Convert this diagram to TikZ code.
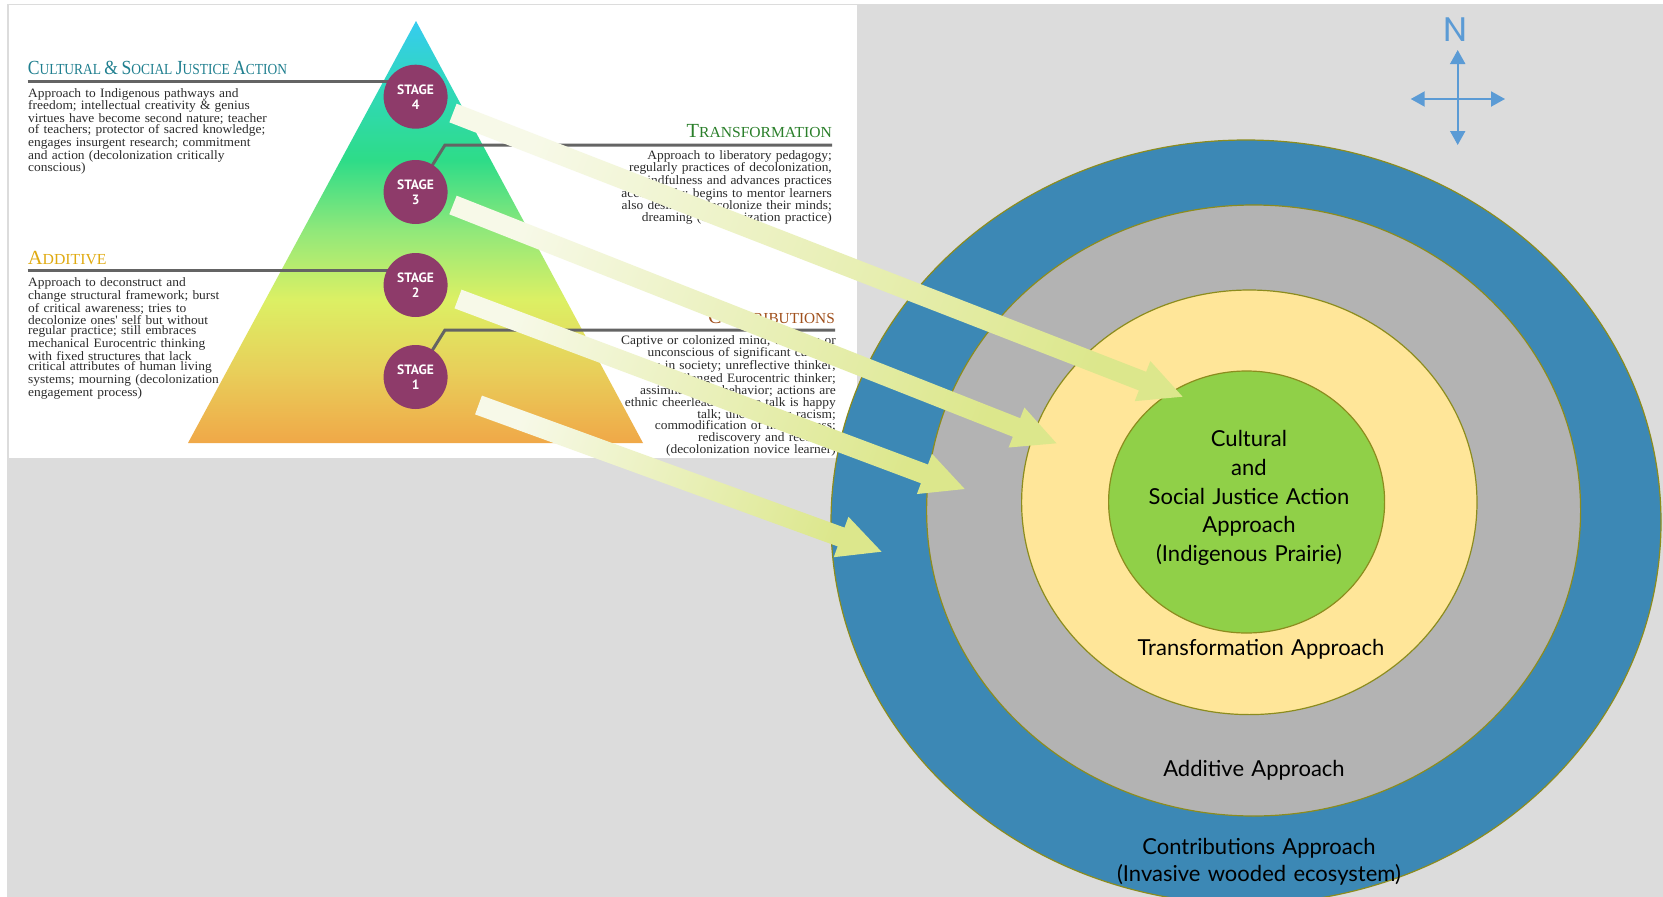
\documentclass[tikz,border=0pt]{standalone}
\usepackage{fontspec}
\usepackage{graphicx}
\setmainfont{Liberation Serif}
\newfontfamily\bodyfont[FakeStretch=1.05]{Liberation Serif}
\newfontfamily\titlefont{Liberation Serif}
\newfontfamily\ringfont{Lato}
\newfontfamily\stagefont{PT Sans}
\newfontfamily\compfont{Poppins}
\usetikzlibrary{calc,arrows.meta}
\definecolor{cBg}{HTML}{DCDCDC}
\definecolor{cPurple}{HTML}{8E3B6A}
\definecolor{cLine}{HTML}{646464}
\definecolor{cTeal}{HTML}{1F7F8F}
\definecolor{cTGreen}{HTML}{2A7F2A}
\definecolor{cGold}{HTML}{E0AA10}
\definecolor{cBrown}{HTML}{A0501C}
\definecolor{cBody}{HTML}{2B2B2B}
\definecolor{cOuter}{HTML}{3C88B5}
\definecolor{cGrayRing}{HTML}{B3B3B3}
\definecolor{cYellow}{HTML}{FFE699}
\definecolor{cGreen}{HTML}{90D048}
\definecolor{cRim}{HTML}{8C8C1E}
\definecolor{cCompass}{HTML}{5B9BD5}
\definecolor{aTail}{HTML}{F7F9E8}
\definecolor{aHead}{HTML}{DCE78C}
\definecolor{pCyan}{HTML}{36CCF0}
\definecolor{pTeal}{HTML}{30D8B8}
\definecolor{pGreen}{HTML}{2EDC88}
\definecolor{pLGreen}{HTML}{90E87A}
\definecolor{pYellow}{HTML}{DCF064}
\definecolor{pGold}{HTML}{E8CF5A}
\definecolor{pOrange}{HTML}{F0A848}
\pgfdeclareverticalshading{pyr}{100bp}{color(0bp)=(pOrange); color(25bp)=(pOrange); color(33.6bp)=(pGold); color(42bp)=(pYellow); color(50.2bp)=(pLGreen); color(58.5bp)=(pGreen); color(66.8bp)=(pTeal); color(75bp)=(pCyan); color(100bp)=(pCyan)}
\newcommand{\tcap}[1]{{\fontsize{20}{20}\selectfont #1}}
\newcommand{\fatarrow}[2]{%
  \coordinate (#1b) at ($(#2)!43pt!(#1)$);
  \shade[top color=aTail, bottom color=aHead, shading angle=69]
    ($(#1)!10pt!90:(#2)$) -- ($(#1b)!10pt!90:(#2)$) -- ($(#1b)!21.5pt!90:(#2)$) -- (#2)
    -- ($(#1b)!21.5pt!-90:(#2)$) -- ($(#1b)!10pt!-90:(#2)$) -- ($(#1)!10pt!-90:(#2)$) -- cycle;
}
\begin{document}
\begin{tikzpicture}[x=1pt,y=-1pt,
  stage/.style={circle, fill=cPurple, minimum size=64pt, inner sep=0pt, text=white,
    font=\stagefont\bfseries\fontsize{13.5}{15}\selectfont, align=center},
  conn/.style={draw=cLine, line width=3pt},
  ttl/.style={inner sep=0pt, font=\titlefont\fontsize{15.3}{16}\selectfont},
  bodyL/.style={inner sep=0pt, text=cBody, text width=260pt, align=left, anchor=base west},
  bodyR/.style={inner sep=0pt, text=cBody, text width=260pt, align=right, anchor=base east},
  ring/.style={draw=cRim, line width=1.2pt},
  ringtxt/.style={inner sep=0pt, font=\ringfont\fontsize{22}{28.75}\selectfont, text=black, align=center, text width=340pt, anchor=base},
  comp/.style={draw=cCompass, line width=2pt, {Triangle[width=15pt,length=14pt]}-{Triangle[width=15pt,length=14pt]}}
]
\useasboundingbox (0,0) rectangle (1663,897);
\clip (0,0) rectangle (1663,897);
\fill[white] (0,0) rectangle (1663,897);
\fill[cBg] (7,4) rectangle (1663,897);
\fill[white] (9,5) rectangle (857,458);

% pyramid
\shade[shading=pyr] (416,21) -- (643,443) -- (188,443) -- cycle;

% stage centres
\coordinate (s4c) at (415.6,96.7);
\coordinate (s3c) at (415.6,192);
\coordinate (s2c) at (415.6,285);
\coordinate (s1c) at (415.6,377);
\coordinate (l4) at (27.6,81.7);
\coordinate (l2) at (27.6,270);
\coordinate (k3) at (445,145);
\coordinate (e3) at (832,145);
\coordinate (k1) at (445,330);
\coordinate (e1) at (835,330);

\draw[conn] (l4) -- (l4 -| s4c);
\draw[conn] (l2) -- (l2 -| s2c);
\draw[conn] (s3c) -- (k3) -- (e3);
\draw[conn] (s1c) -- (k1) -- (e1);

\node[stage] (s4) at (s4c) {STAGE\\4};
\node[stage] (s3) at (s3c) {STAGE\\3};
\node[stage] (s2) at (s2c) {STAGE\\2};
\node[stage] (s1) at (s1c) {STAGE\\1};

% titles
\node[ttl, text=cTeal, anchor=base west] (t4) at (27.6,74.5) {\scalebox{0.88}[1]{\tcap{C}ULTURAL \tcap{\&} \tcap{S}OCIAL \tcap{J}USTICE \tcap{A}CTION}};
\node[ttl, text=cTGreen, anchor=base east] (t3) at (832,137.5) {\scalebox{1.02}[1]{\tcap{T}RANSFORMATION}};
\node[ttl, text=cGold, anchor=base west] (t2) at (27.6,264) {\scalebox{1.03}[1]{\tcap{A}DDITIVE}};
\node[ttl, text=cBrown, anchor=base east] (t1) at (835,323.5) {\tcap{C}ONTRIBUTIONS};

% bodies
\node[bodyL, font=\bodyfont\fontsize{12.8}{11.4}\selectfont] (b4) at (28,97) {Approach to Indigenous pathways and\\ freedom; intellectual creativity \& genius\\ virtues have become second nature; teacher\\ of teachers; protector of sacred knowledge;\\ engages insurgent research; commitment\\ and action (decolonization critically\\ conscious)};
\node[bodyR, font=\bodyfont\fontsize{12.8}{11.6}\selectfont] (b3) at (832,159) {Approach to liberatory pedagogy;\\ regularly practices of decolonization,\\ mindfulness and advances practices\\ accordingly; begins to mentor learners\\ also desires to decolonize their minds;\\ dreaming (decolonization practice)};
\node[bodyL, font=\bodyfont\fontsize{12.8}{10.6}\selectfont] (b2) at (28,286.7) {Approach to deconstruct and\\ change structural framework; burst\\ of critical awareness; tries to\\ decolonize ones' self but without\\ regular practice; still embraces\\ mechanical Eurocentric thinking\\ with fixed structures that lack\\ critical attributes of human living\\ systems; mourning (decolonization\\ engagement process)};
\node[bodyR, font=\bodyfont\fontsize{12.8}{11.2}\selectfont] (b1) at (836,344) {Captive or colonized mind; unaware or\\ unconscious of significant cultural\\ issues in society; unreflective thinker;\\ unchallenged Eurocentric thinker;\\ assimilationist behavior; actions are\\ ethnic cheerleading; race talk is happy\\ talk; unconscious racism;\\ commodification of mindfulness;\\ rediscovery and recovery\\ (decolonization novice learner)};

% concentric ellipses
\draw[ring, fill=cOuter] (1246,522) ellipse [x radius=415, y radius=382];
\draw[ring, fill=cGrayRing] (1253.6,510.5) ellipse [x radius=327, y radius=305.5];
\draw[ring, fill=cYellow] (1249.3,502.3) ellipse [x radius=227.7, y radius=212.3];
\draw[ring, fill=cGreen] (1246.6,502) ellipse [x radius=138, y radius=131];

\node[ringtxt] (core) at (1249,446.7) {Cultural\\ and\\ Social Justice Action\\ Approach\\ (Indigenous Prairie)};
\node[ringtxt] (rtrans) at (1261,655) {Transformation Approach};
\node[ringtxt] (radd) at (1254,776.6) {Additive Approach};
\node[ringtxt, font=\ringfont\fontsize{22}{27.5}\selectfont] (rcon) at (1259,854) {Contributions Approach\\ (Invasive wooded ecosystem)};

% big arrows
\coordinate (t4a) at (453,113);   \coordinate (h4a) at (1182.6,396.7);
\coordinate (t3a) at (453,205);   \coordinate (h3a) at (1056.5,443.3);
\coordinate (t2a) at (458,299);   \coordinate (h2a) at (964.7,489);
\coordinate (t1a) at (478.5,405); \coordinate (h1a) at (881.5,551.7);
\fatarrow{t4a}{h4a}
\fatarrow{t3a}{h3a}
\fatarrow{t2a}{h2a}
\fatarrow{t1a}{h1a}

% compass
\node[inner sep=0pt, text=cCompass, font=\compfont\fontsize{34}{34}\selectfont] (N) at (1455.5,29.5) {N};
\coordinate (cn) at (1457.7,50);
\coordinate (cs) at (1457.7,145);
\coordinate (cw) at (1410.7,99);
\coordinate (ce) at (1505,99);
\draw[comp] (cn) -- (cs);
\draw[comp] (cw) -- (ce);
\end{tikzpicture}
\end{document}
